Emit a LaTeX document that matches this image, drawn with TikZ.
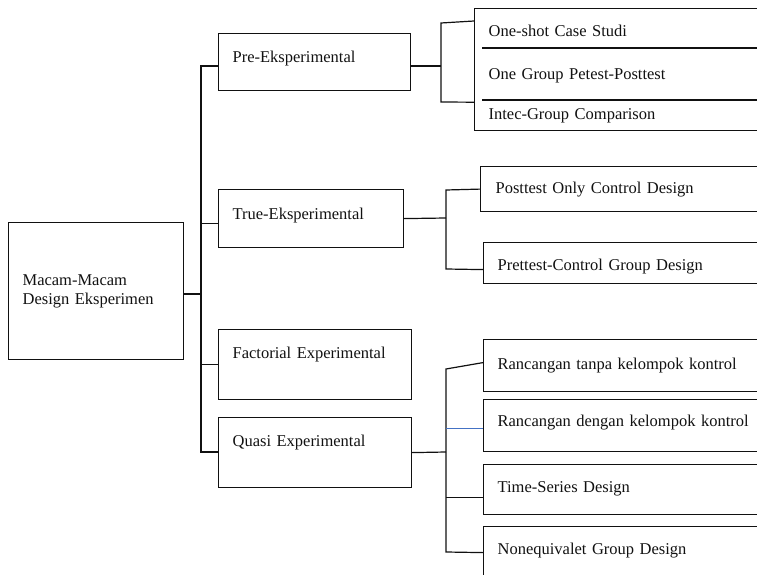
\documentclass[tikz,border=0pt]{standalone}
\usepackage{fontspec}
\setmainfont{Liberation Serif}
\definecolor{linkblue}{HTML}{4472C4}
\definecolor{ink}{HTML}{111111}
\begin{document}
\begin{tikzpicture}[x=1pt,y=-1pt, line width=1.2pt, draw=ink,
  every node/.style={font=\fontsize{16.5}{19}\selectfont, text=ink},
  box/.style={draw=ink, anchor=north west, inner ysep=0pt, align=left},
  txt/.style={anchor=north west, inner ysep=0pt, align=left},
  bluelink/.style={draw=linkblue, line width=0.9pt}]
\clip (0,0) rectangle (757,575);

% main boxes
\node[box, inner xsep=14pt, text width=147pt, minimum height=137pt] (root) at (8,222) {Macam-Macam\\Design Eksperimen};
\node[box, inner xsep=14pt, text width=164pt, text height=29pt, text depth=28pt] (pre) at (218,33) {Pre-Eksperimental};
\node[box, inner xsep=14pt, text width=157pt, text height=30pt, text depth=28pt] (true) at (218,189) {True-Eksperimental};
\node[box, inner xsep=14pt, text width=165pt, text height=29pt, text depth=41pt] (fact) at (218,329) {Factorial Experimental};
\node[box, inner xsep=14pt, text width=165pt, text height=29pt, text depth=41pt] (quasi) at (218,417) {Quasi Experimental};

% pre-experimental group
\node[box, minimum width=296pt, minimum height=122pt, inner sep=0pt] (pg) at (474,8) {};
\node[txt, inner xsep=14pt, text width=268pt, text height=28pt, text depth=12pt] (s1) at (474,8) {One-shot Case Studi};
\node[txt, inner xsep=6pt, text width=276pt, text height=31pt, text depth=21pt] (s2) at (482,48) {One Group Petest-Posttest};
\node[txt, inner xsep=6pt, text width=276pt, text height=19pt, text depth=11pt] (s3) at (482,100) {Intec-Group Comparison};
\draw (s2.north west) -- (s2.north east);
\draw (s3.north west) -- (s3.north east);

% true-experimental group
\node[box, inner xsep=15pt, text width=260pt, text height=27pt, text depth=18pt] (post) at (480,166) {Posttest Only Control Design};
\node[box, inner xsep=14pt, text width=259pt, text height=28pt, text depth=13pt] (pret) at (483,242) {Prettest-Control Group Design};

% quasi group
\node[box, inner xsep=14pt, text width=259pt, text height=30pt, text depth=22pt] (r1) at (483,339) {Rancangan tanpa kelompok kontrol};
\node[box, inner xsep=14pt, text width=259pt, text height=27pt, text depth=25pt] (r2) at (483,399) {Rancangan dengan kelompok kontrol};
\node[box, inner xsep=14pt, text width=259pt, text height=28pt, text depth=22pt] (r3) at (483,464) {Time-Series Design};
\node[box, inner xsep=14pt, text width=259pt, text height=28pt, text depth=24pt] (r4) at (483,526) {Nonequivalet Group Design};

% trunk
\coordinate (tr) at (201,294);
\coordinate (ta) at (201,66);
\coordinate (tq) at (201,452);
\draw (root.east |- tr) -- (tr);
\draw (pre.west |- ta) -- (ta) -- (tq) -- (quasi.west |- tq);
\draw ([yshift=-5pt]true.west) -- ++(-17,0);
\draw (fact.west) -- ++(-17,0);

% pre bracket
\coordinate (pb) at (441,66);
\coordinate (pbt) at (441,23);
\coordinate (pbb) at (441,102);
\draw (pre.east |- pb) -- (pb);
\draw ([yshift=-13pt]pg.north west) -- (pbt) -- (pbb) -- ([yshift=29pt]pg.south west);

% true bracket
\coordinate (tbm) at (446,218);
\coordinate (tbt) at (446,190);
\coordinate (tbb) at (446,269);
\draw (true.east) -- (tbm);
\draw (post.west) -- (tbt) -- (tbb) -- ([yshift=-6.5pt]pret.west);

% quasi bracket
\coordinate (qbm) at (446,452);
\coordinate (qbt) at (446,369);
\coordinate (qbb) at (446,552);
\draw (quasi.east) -- (qbm);
\draw ([yshift=3pt]r1.west) -- (qbt) -- (qbb) -- (r4.west);
\draw[bluelink] ([yshift=-3pt]r2.west) -- ++(-37,0);
\draw ([yshift=-8pt]r3.west) -- ++(-37,0);
\end{tikzpicture}
\end{document}
